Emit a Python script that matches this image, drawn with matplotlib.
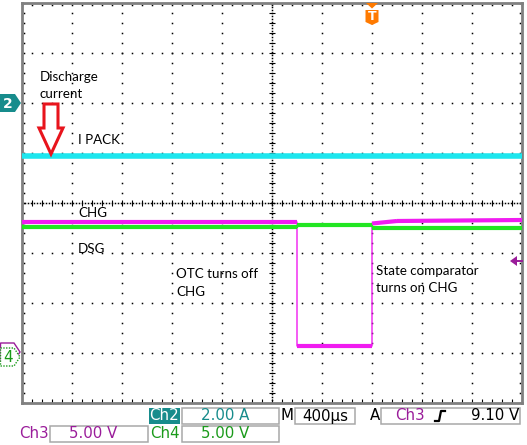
"""
Scope capture: OTC turns off CHG, state comparator turns it back on.
Ch2 = I PACK (current probe), Ch3 = CHG, Ch4 = DSG.
"""

import numpy as np
import matplotlib.pyplot as plt
from matplotlib.patches import Polygon, Rectangle

# scope settings
TIME_PER_DIV = 400.0          # µs / div
TRIG_DIV = 7.0                # trigger point, divisions from the left edge
CH2_SCALE, CH2_OFFSET = 2.0, 2.0      # A/div, ground marker (div)
CH3_SCALE, CH3_OFFSET = 5.0, -2.98    # V/div
CH4_SCALE, CH4_OFFSET = 5.0, -3.08
TRIG_LEVEL = 9.10             # V on Ch3

# traces, time in µs relative to the trigger
ipack_t = [-2800, 1200]
ipack_a = [-2.1, -2.1]

chg_t = [-2800, -600, -600, 0, 0, 200, 1200]
chg_v = [13.0, 13.0, 0.6, 0.6, 12.85, 13.1, 13.2]

dsg_t = [-2800, -600, -600, 0, 0, 1200]
dsg_v = [13.0, 13.0, 13.2, 13.2, 12.95, 12.95]

CYAN = "#1ee6ee"
MAGENTA = "#f01cf0"
GREEN = "#22e622"
TEAL = "#178c8c"
PURPLE = "#9a1c9a"
DGREEN = "#1a9a1a"
ORANGE = "#ff7a00"
RED = "#e8141c"

W, H = 527, 445
fig = plt.figure(figsize=(W / 100, H / 100), dpi=100)
fig.patch.set_facecolor("white")

# graticule: 22..522 px wide, 3..403 px high
ax = fig.add_axes([22 / W, (H - 403) / H, 500 / W, 400 / H])
x0 = -TRIG_DIV * TIME_PER_DIV
ax.set_xlim(x0, x0 + 10 * TIME_PER_DIV)
ax.set_ylim(-4, 4)
ax.set_xticks([])
ax.set_yticks([])
for sp in ax.spines.values():
    sp.set_color("#808080")
    sp.set_linewidth(2.0)


def tdiv(d):
    return x0 + np.asarray(d, dtype=float) * TIME_PER_DIV


dot = dict(ls="none", marker="s", ms=1.1, mew=0, color="black", zorder=1)
ys = np.arange(-4, 4.001, 0.2)
xs = np.arange(0, 10.001, 0.2)
for k in [1, 2, 3, 4, 6, 7, 8, 9]:
    ax.plot(np.full_like(ys, tdiv(k)), ys, **dot)
for k in [-3, -2, -1, 1, 2, 3]:
    ax.plot(tdiv(xs), np.full_like(xs, k), **dot)

# centre cross with fine ticks
fy = np.arange(-4, 4.001, 0.06)
fx = np.arange(0, 10.001, 0.06)
ax.plot(np.full_like(fy, tdiv(5)), fy, **dot)
ax.plot(tdiv(fx), np.zeros_like(fx), **dot)
tick = dict(ls="none", ms=4, mew=0.8, color="black", zorder=1)
ax.plot(np.full_like(ys, tdiv(5)), ys, marker="_", **tick)
ax.plot(tdiv(xs), np.zeros_like(xs), marker="|", **tick)

# edge ticks
ax.plot(np.full_like(ys, tdiv(0.03)), ys, **dot)
ax.plot(np.full_like(ys, tdiv(9.96)), ys, **dot)
ax.plot(tdiv(xs), np.full_like(xs, 3.96), **dot)
ax.plot(tdiv(xs), np.full_like(xs, -3.95), marker="|", **dict(tick, ms=3))


def draw_trace(t, v, scale, offset, color, lw):
    t = np.asarray(t, dtype=float)
    y = offset + np.asarray(v, dtype=float) / scale
    ax.plot(t, y, color=color, lw=1.0, zorder=3)
    for i in range(len(t) - 1):
        if t[i + 1] > t[i]:
            ax.plot(t[i:i + 2], y[i:i + 2], color=color, lw=lw,
                    solid_capstyle="butt", zorder=3)


draw_trace(ipack_t, ipack_a, CH2_SCALE, CH2_OFFSET, CYAN, 4.0)
draw_trace(chg_t, chg_v, CH3_SCALE, CH3_OFFSET, MAGENTA, 3.0)
draw_trace(dsg_t, dsg_v, CH4_SCALE, CH4_OFFSET, GREEN, 3.0)

# overlay in pixel coordinates for markers, notes and status bar
ov = fig.add_axes([0, 0, 1, 1])
ov.set_xlim(0, W)
ov.set_ylim(H, 0)
ov.axis("off")
ov.set_zorder(5)


def div_to_px(d):
    return 203 - d * 50


# channel ground markers
y2 = div_to_px(CH2_OFFSET)
ov.add_patch(Polygon([(0, y2 - 9), (15, y2 - 9), (21, y2), (15, y2 + 9), (0, y2 + 9)],
                     closed=True, facecolor=TEAL, edgecolor="none"))
ov.text(8, y2 + 0.5, "2", color="white", fontsize=10, fontweight="bold",
        ha="center", va="center")

y3 = div_to_px(CH3_OFFSET)
ov.add_patch(Polygon([(0.5, y3 - 9), (14, y3 - 9), (20, y3), (14, y3 + 9), (0.5, y3 + 9)],
                     closed=True, facecolor="white", edgecolor=PURPLE, lw=1.0))
y4 = div_to_px(CH4_OFFSET)
ov.add_patch(Polygon([(0.5, y4 - 9), (14, y4 - 9), (20, y4), (14, y4 + 9), (0.5, y4 + 9)],
                     closed=True, facecolor="white", edgecolor=DGREEN, lw=1.0, ls=(0, (1, 1))))
ov.text(8, y4 + 0.5, "4", color=DGREEN, fontsize=11, ha="center", va="center")

# trigger level arrow (right edge)
yt = div_to_px(CH3_OFFSET + TRIG_LEVEL / CH3_SCALE)
ov.add_patch(Polygon([(510, yt), (517, yt - 5), (517, yt + 5)], closed=True,
                     facecolor=PURPLE, edgecolor="none"))
ov.plot([517, 522], [yt, yt], color=PURPLE, lw=1.4)

# trigger position marker (top)
xt = 22 + TRIG_DIV * 50
ov.add_patch(Polygon([(xt - 6, 3), (xt + 6, 3), (xt, 8.5)], closed=True,
                     facecolor=ORANGE, edgecolor="none"))
ov.add_patch(Polygon([(xt - 6.5, 10), (xt + 6.5, 10), (xt + 6.5, 22), (xt, 25),
                      (xt - 6.5, 22)], closed=True, facecolor=ORANGE, edgecolor="none"))
ov.text(xt, 17, "T", color="white", fontsize=9, fontweight="bold",
        ha="center", va="center")

# annotations
note = dict(fontsize=9.6, family="Lato", color="black", va="baseline")
ov.text(40, 81, "Discharge", **note)
ov.text(40, 98, "current", **note)
ov.text(78, 144, "I PACK", **note)
ov.text(78, 217, "CHG", **note)
ov.text(78, 253, "DSG", **note)
ov.text(176, 278, "OTC turns off", **note)
ov.text(176, 296, "CHG", **note)
ov.text(376, 275, "State comparator", **note)
ov.text(376, 292, "turns on CHG", **note)

ov.add_patch(Polygon([(44, 104), (58, 104), (58, 128), (63, 128), (51, 154),
                      (39, 128), (44, 128)], closed=True, fill=False,
                     edgecolor=RED, lw=2.2, joinstyle="miter"))

# status bar
stat = dict(fontsize=10.8, family="DejaVu Sans", va="center")
box = dict(fill=False, edgecolor="#a8a8a8", lw=1.1)
r1, r2 = 416, 434

ov.add_patch(Rectangle((149, 408), 31, 16, facecolor=TEAL, edgecolor="none"))
ov.text(164.5, r1, "Ch2", color="white", ha="center", **stat)
ov.add_patch(Rectangle((182, 408), 97, 16, **box))
ov.text(225, r1, "2.00 A", color=TEAL, ha="center", **stat)
ov.text(287.5, r1, "M", color="black", ha="center", **stat)
ov.add_patch(Rectangle((295, 408), 60, 16, **box))
ov.text(325, r1, "400µs", color="black", ha="center", **stat)
ov.text(375, r1, "A", color="black", ha="center", **stat)
ov.add_patch(Rectangle((381, 408), 139, 16, **box))
ov.text(409.5, r1, "Ch3", color=PURPLE, ha="center", **stat)
ov.plot([435, 439, 441, 445], [421, 421, 411, 411], color="black", lw=1.6)
ov.text(519, r1, "9.10 V", color="black", ha="right", **stat)

ov.text(33.5, r2, "Ch3", color=PURPLE, ha="center", **stat)
ov.add_patch(Rectangle((50, 426), 98, 16, **box))
ov.text(93, r2, "5.00 V", color=PURPLE, ha="center", **stat)
ov.text(165, r2, "Ch4", color=DGREEN, ha="center", **stat)
ov.add_patch(Rectangle((182, 426), 97, 16, **box))
ov.text(225, r2, "5.00 V", color=DGREEN, ha="center", **stat)

fig.savefig("out.png", dpi=100, facecolor="white")
